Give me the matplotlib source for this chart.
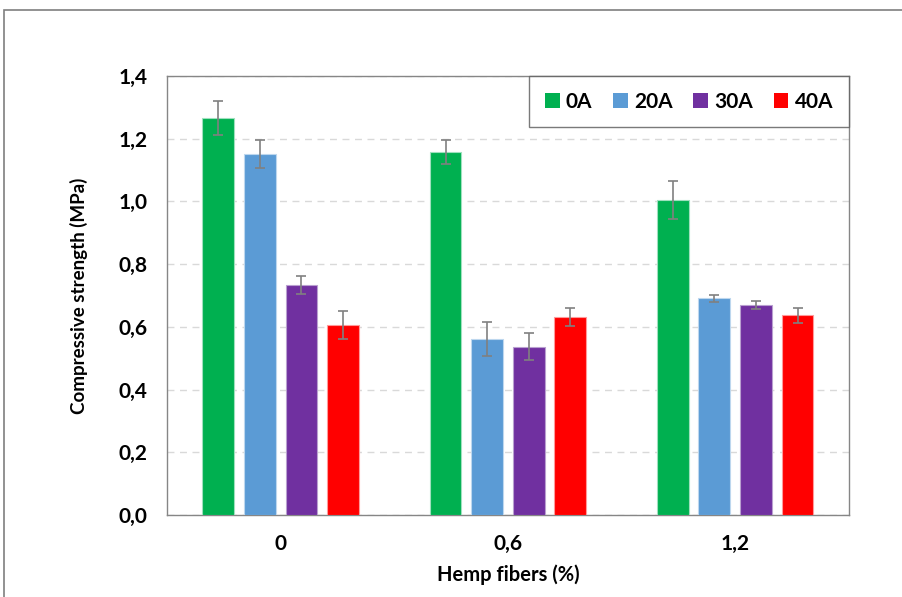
import numpy as np
import matplotlib.pyplot as plt
from matplotlib.patches import Rectangle

plt.rcParams['font.family'] = ['Lato', 'DejaVu Sans']
plt.rcParams['font.weight'] = 'bold'
plt.rcParams['axes.labelweight'] = 'bold'

#data
categories = ['0', '0,6', '1,2']
series = ['0A', '20A', '30A', '40A']
vals_0A = [1.266, 1.158, 1.004]
vals_20A = [1.151, 0.561, 0.691]
vals_30A = [0.733, 0.537, 0.670]
vals_40A = [0.606, 0.631, 0.637]
err_0A = [0.055, 0.038, 0.060]
err_20A = [0.045, 0.053, 0.011]
err_30A = [0.028, 0.043, 0.014]
err_40A = [0.045, 0.029, 0.024]
yticks = [0.0, 0.2, 0.4, 0.6, 0.8, 1.0, 1.2, 1.4]
ytick_labels = ['0,0', '0,2', '0,4', '0,6', '0,8', '1,0', '1,2', '1,4']

colors = ['#00B050', '#5B9BD5', '#7030A0', '#FF0000']
edges = ['#9FE0BE', '#BDD7EE', '#B9A0D0', '#FF9A9A']
all_vals = [vals_0A, vals_20A, vals_30A, vals_40A]
all_errs = [err_0A, err_20A, err_30A, err_40A]

fig = plt.figure(figsize=(9.03, 5.97), dpi=100)
ax = fig.add_axes([0.185, 0.1374, 0.755, 0.7353])

#outer chart border (cut off at right/bottom)
fig.patches.append(Rectangle((0.0045, -0.1), 1.2, 1.0832, transform=fig.transFigure,
                             fill=False, edgecolor='#7F7F7F', linewidth=1.2))

x = np.arange(len(categories))
w = 0.14
step = 0.183
for i in range(4):
    pos = x + (i - 1.5) * step
    ax.bar(pos, all_vals[i], width=w, color=colors[i], edgecolor=edges[i],
           linewidth=0.8, label=series[i], zorder=3)
    ax.errorbar(pos, all_vals[i], yerr=all_errs[i], fmt='none', ecolor='#808080',
                elinewidth=1.2, capsize=3.5, capthick=1.2, zorder=4)

ax.set_xlim(-0.5, 2.5)
ax.set_ylim(0, 1.4)
ax.set_yticks(yticks)
ax.set_yticklabels(ytick_labels)
ax.set_xticks(x)
ax.set_xticklabels(categories)
ax.tick_params(axis='both', length=0, labelsize=15)
ax.tick_params(axis='y', pad=14)
ax.tick_params(axis='x', pad=14)
ax.grid(axis='y', color='#D9D9D9', linestyle=(0, (5, 4)), linewidth=1, zorder=0)
for s in ax.spines.values():
    s.set_color('#868686')
    s.set_linewidth(1)

ax.set_xlabel('Hemp fibers (%)', fontsize=14.5, labelpad=7)
ax.set_ylabel('Compressive strength (MPa)', fontsize=13.5, labelpad=22)

leg = ax.legend(loc='upper right', ncol=4, frameon=True, fancybox=False,
                fontsize=15, handlelength=0.7, handleheight=0.7, handletextpad=0.3,
                columnspacing=1.0, borderpad=0.75, borderaxespad=0)
leg.get_frame().set_edgecolor('#595959')
leg.get_frame().set_linewidth(1)
for h in leg.legend_handles:
    h.set_edgecolor('none')

fig.savefig('out.png', dpi=100)
